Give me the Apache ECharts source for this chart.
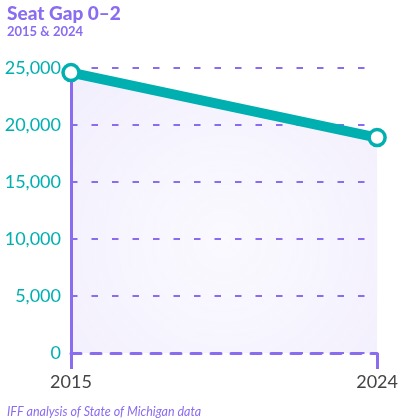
<!DOCTYPE html>
<html><head><meta charset="utf-8">
<script src="https://cdn.jsdelivr.net/npm/echarts@6/dist/echarts.min.js"></script>
<style>html,body{margin:0;padding:0;background:#fff}#c{width:401px;height:419px}</style>
</head><body><div id="c"></div>
<script>
const categories = ['2015', '2024'];
const seatGap = [24600, 18900];
const yTicks = [0, 5000, 10000, 15000, 20000, 25000];
const titleText = 'Seat Gap 0–2';
const subtitleText = '2015 & 2024';
const sourceText = 'IFF analysis of State of Michigan data';

const purple = '#8a6cf0';
const teal = '#00b0b0';
const chart = echarts.init(document.getElementById('c'), null, {renderer: 'canvas'});
chart.setOption({
  animation: false,
  title: [
    {text: titleText, left: 2, top: -1, textStyle: {fontFamily: 'Lato', fontWeight: 900, fontSize: 19, color: purple}},
    {text: subtitleText, left: 2, top: 20, textStyle: {fontFamily: 'Lato', fontWeight: 700, fontSize: 13, color: purple}},
    {text: sourceText, left: 2, top: 400, textStyle: {fontFamily: 'Lato', fontStyle: 'italic', fontWeight: 400, fontSize: 12.5, color: purple}}
  ],
  grid: {left: 71, right: 23, top: 68, bottom: 66},
  xAxis: {
    type: 'category', data: categories, boundaryGap: false,
    axisLine: {show: true, lineStyle: {color: purple, width: 3, type: [10, 10]}},
    axisTick: {show: true, length: 16, lineStyle: {color: purple, width: 3}},
    axisLabel: {color: '#444', fontFamily: 'Lato', fontSize: 18, margin: 20,
      alignMinLabel: 'center', alignMaxLabel: 'center'}
  },
  yAxis: {
    type: 'value', min: yTicks[0], max: yTicks[yTicks.length - 1], interval: 5000,
    axisLine: {show: true, lineStyle: {color: purple, width: 3}},
    axisTick: {show: false},
    axisLabel: {color: teal, fontFamily: 'Lato', fontSize: 18, margin: 10,
      formatter: v => v.toLocaleString('en-US')},
    splitLine: {show: true, lineStyle: {color: purple, width: 2, type: [6.5, 14]}}
  },
  series: [{
    type: 'line', data: seatGap,
    lineStyle: {color: teal, width: 10},
    symbol: 'circle', symbolSize: 16,
    itemStyle: {color: '#fff', borderColor: teal, borderWidth: 3.5},
    areaStyle: {opacity: 1, color: {type: 'radial', x: 0.5, y: 0.6, r: 0.8, colorStops: [
      {offset: 0, color: 'rgba(138,108,240,0.04)'}, {offset: 1, color: 'rgba(138,108,240,0.11)'}]}},
    z: 3
  }]
});
</script></body></html>
